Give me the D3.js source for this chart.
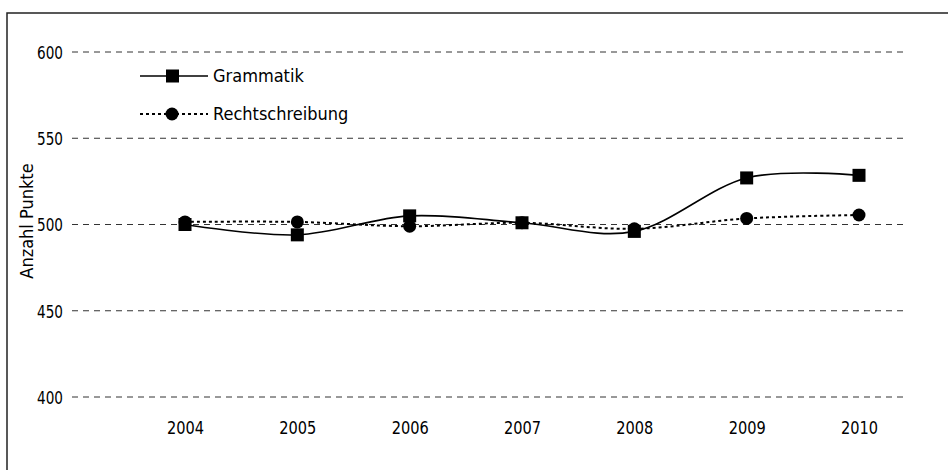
<!DOCTYPE html>
<html>
<head>
<meta charset="utf-8">
<script src="https://cdn.jsdelivr.net/npm/d3@7"></script>
<style>
  body { margin: 0; background: #fff; }
  svg text { font-family: "DejaVu Sans", sans-serif; font-stretch: condensed; fill: #000; }
</style>
</head>
<body>
<svg width="948" height="470"></svg>
<script>
"use strict"
const years = ["2004", "2005", "2006", "2007", "2008", "2009", "2010"]
const grammatik = [500, 494, 505, 501, 496, 527, 528.5]
const rechtschreibung = [501.5, 501.5, 499, 501, 497.5, 503.5, 505.5]
const yTicks = [400, 450, 500, 550, 600]

let svg = d3.select("svg")

// outer frame (runs off the right/bottom edge)
svg.append("rect")
  .attr("x", 7).attr("y", 13)
  .attr("width", 960).attr("height", 480)
  .attr("fill", "none").attr("stroke", "#222").attr("stroke-width", 1.5)

let x = d3.scalePoint().domain(years).range([185, 859])
let y = d3.scaleLinear().domain([400, 600]).range([397, 52])

// grid
svg.append("g").selectAll("line")
  .data(yTicks)
  .enter().append("line")
    .attr("x1", 72).attr("x2", 906)
    .attr("y1", d => y(d)).attr("y2", d => y(d))
    .attr("stroke", "#333").attr("stroke-width", 1)
    .attr("stroke-dasharray", "6,5")

let yAxis = svg.append("g")
  .attr("transform", "translate(63,0)")
  .call(d3.axisLeft(y).tickValues(yTicks).tickSize(0).tickPadding(0))
yAxis.select(".domain").remove()
yAxis.selectAll("text").attr("font-size", 18).attr("dy", "0.35em")
  .attr("font-family", null)
  .attr("transform", "scale(0.84,1)")

let xAxis = svg.append("g")
  .attr("transform", "translate(0,428)")
  .call(d3.axisBottom(x).tickSize(0).tickPadding(0))
xAxis.select(".domain").remove()
xAxis.selectAll("text").attr("font-size", 18).attr("dy", "0.35em")
  .attr("font-family", null)
  .attr("transform", "scale(0.9,1)")

svg.append("text")
  .attr("transform", "translate(27,221) rotate(-90)")
  .attr("text-anchor", "middle")
  .attr("dy", "0.35em")
  .attr("font-size", 18)
  .text("Anzahl Punkte")

let line = d3.line()
  .x((d, i) => x(years[i]))
  .y(d => y(d))
  .curve(d3.curveCardinal.tension(0))

svg.append("path")
  .datum(rechtschreibung)
  .attr("d", line)
  .attr("fill", "none").attr("stroke", "#000").attr("stroke-width", 2)
  .attr("stroke-dasharray", "3,3")

svg.append("path")
  .datum(grammatik)
  .attr("d", line)
  .attr("fill", "none").attr("stroke", "#000").attr("stroke-width", 1.6)

svg.append("g").selectAll("circle")
  .data(rechtschreibung)
  .enter().append("circle")
    .attr("cx", (d, i) => x(years[i]))
    .attr("cy", d => y(d))
    .attr("r", 6.5)
    .attr("fill", "#000")

svg.append("g").selectAll("rect")
  .data(grammatik)
  .enter().append("rect")
    .attr("x", (d, i) => x(years[i]) - 6.5)
    .attr("y", d => y(d) - 6.5)
    .attr("width", 13).attr("height", 13)
    .attr("fill", "#000")

// legend
let legend = svg.append("g")
let lg = [
  {name: "Grammatik", y: 76, dash: null, w: 1.6, shape: "square"},
  {name: "Rechtschreibung", y: 114, dash: "3,3", w: 2, shape: "circle"}
]
lg.forEach(d => {
  legend.append("line")
    .attr("x1", 140).attr("x2", 208)
    .attr("y1", d.y).attr("y2", d.y)
    .attr("stroke", "#000").attr("stroke-width", d.w)
    .attr("stroke-dasharray", d.dash)
  if (d.shape == "square") {
    legend.append("rect")
      .attr("x", 166).attr("y", d.y - 6.5)
      .attr("width", 13).attr("height", 13).attr("fill", "#000")
  } else {
    legend.append("circle")
      .attr("cx", 172).attr("cy", d.y).attr("r", 6.5).attr("fill", "#000")
  }
  legend.append("text")
    .attr("x", 213).attr("y", d.y)
    .attr("dy", "0.35em")
    .attr("font-size", 18)
    .text(d.name)
})
</script>
</body>
</html>
